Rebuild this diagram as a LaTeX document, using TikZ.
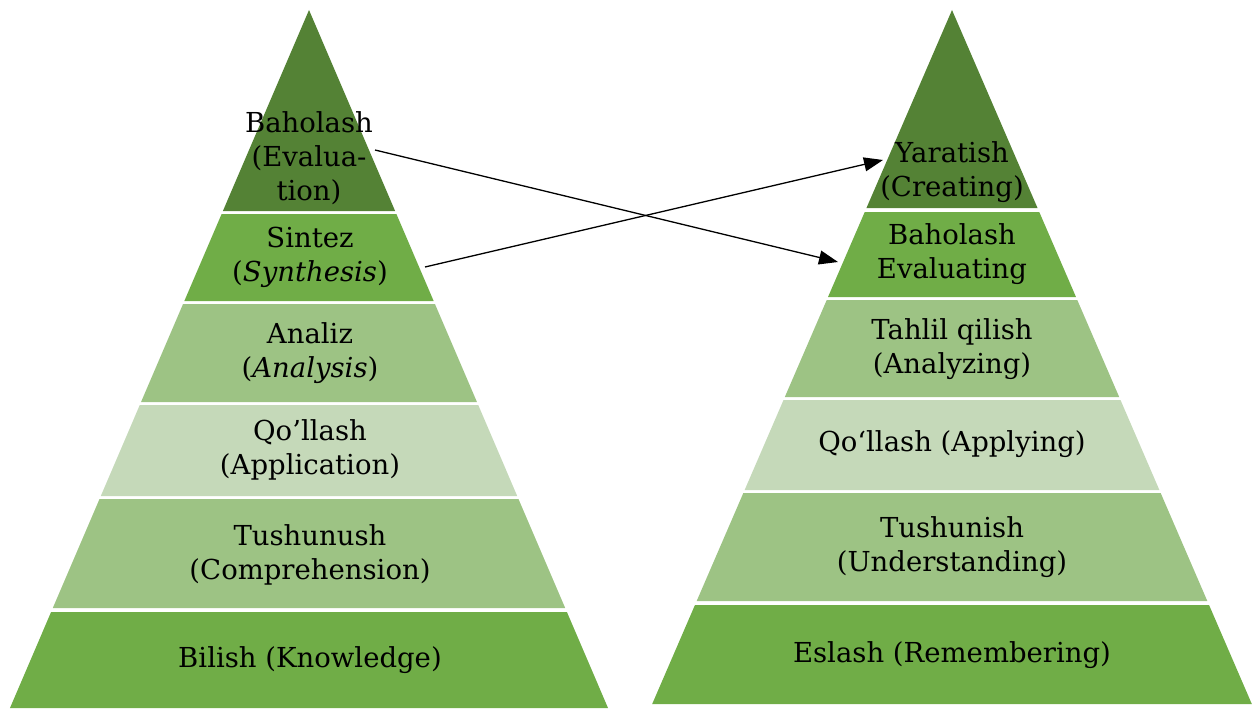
\documentclass[tikz,border=0pt]{standalone}
\usepackage{fontspec}
\setmainfont{DejaVu Serif}
\usetikzlibrary{arrows.meta}

\definecolor{gDark}{HTML}{548235}
\definecolor{gMid}{HTML}{70AD47}
\definecolor{gLight}{HTML}{9DC384}
\definecolor{gPale}{HTML}{C5D9B9}

\tikzset{
  lvl/.style={align=center, inner sep=0pt, font=\fontsize{27.5}{34}\selectfont},
  arr/.style={-{Triangle[length=19pt,width=14pt]}, line width=1.3pt}
}

\begin{document}
\begin{tikzpicture}[x=1pt,y=-1pt]
\useasboundingbox (0,0) rectangle (1255,709);

% left pyramid (old taxonomy)
\foreach \ya/\yb/\col in {10/211/gDark, 214/301/gMid, 304/402/gLight, 405/496/gPale, 499/608/gLight, 612/708/gMid}{
  \pgfmathsetmacro\wa{(\ya-10)*0.4284}
  \pgfmathsetmacro\wb{(\yb-10)*0.4284}
  \fill[\col] (309-\wa,\ya) -- (309+\wa,\ya) -- (309+\wb,\yb) -- (309-\wb,\yb) -- cycle;
}

% right pyramid (revised taxonomy)
\foreach \ya/\yb/\col in {10/208/gDark, 212/297/gMid, 300/397/gLight, 400/490/gPale, 493/601/gLight, 605/704/gMid}{
  \pgfmathsetmacro\wa{(\ya-10)*0.432}
  \pgfmathsetmacro\wb{(\yb-10)*0.432}
  \fill[\col] (952-\wa,\ya) -- (952+\wa,\ya) -- (952+\wb,\yb) -- (952-\wb,\yb) -- cycle;
}

% labels, left
\node[lvl] (evalL) at (309,158) {Baholash\\(Evalua-\\tion)};
\node[lvl] (synL) at (310,257) {Sintez\\(\textit{Synthesis})};
\node[lvl] (anaL) at (310,353) {Analiz\\(\textit{Analysis})};
\node[lvl] (appL) at (310,450) {Qo’llash\\(Application)};
\node[lvl] (comL) at (310,555) {Tushunush\\(Comprehension)};
\node[lvl] (knoL) at (310,660) {Bilish (Knowledge)};

% labels, right
\node[lvl] (creR) at (952,172) {Yaratish\\(Creating)};
\node[lvl] (evaR) at (952,254) {Baholash\\Evaluating};
\node[lvl] (anaR) at (952,349) {Tahlil qilish\\(Analyzing)};
\node[lvl] (appR) at (952,444) {Qo‘llash (Applying)};
\node[lvl] (undR) at (952,547) {Tushunish\\(Understanding)};
\node[lvl] (remR) at (952,655) {Eslash (Remembering)};

% crossing arrows
\draw[arr] ([shift={(66,-8)}]evalL.center) -- ([shift={(-114,8)}]evaR.center);
\draw[arr] ([shift={(115,10)}]synL.center) -- ([shift={(-69,-12)}]creR.center);
\end{tikzpicture}
\end{document}
